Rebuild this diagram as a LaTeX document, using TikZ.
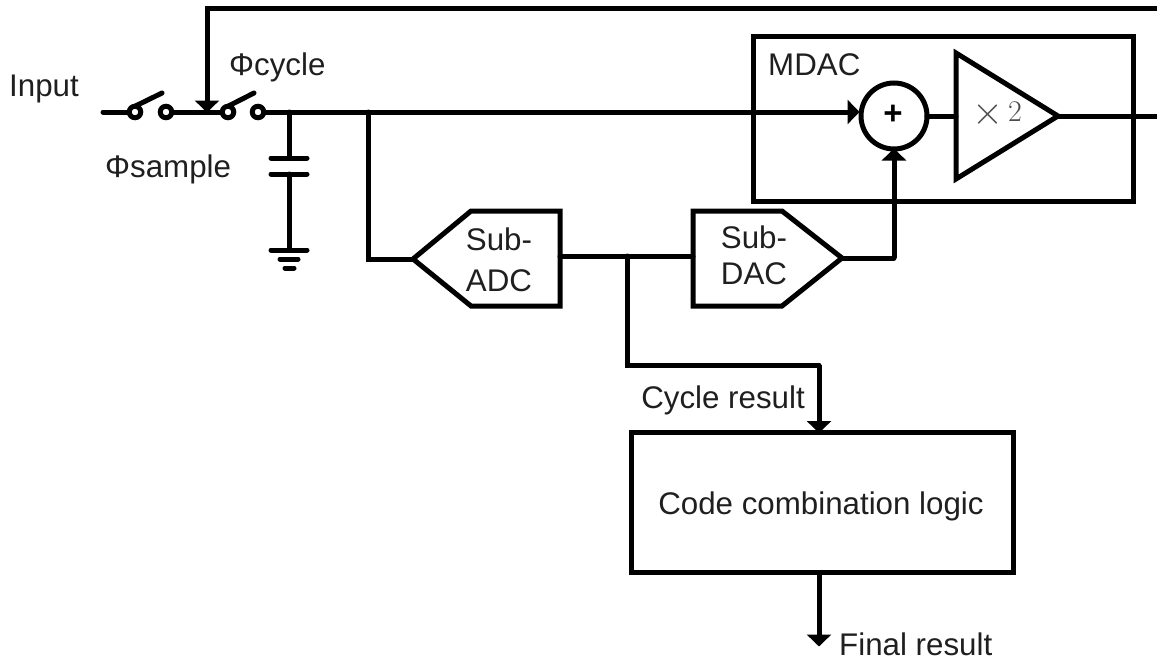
\documentclass[tikz,border=0pt]{standalone}
\usepackage{fontspec}
\setmainfont{Liberation Sans}
\usetikzlibrary{arrows.meta}
\tikzset{
  x=1pt,y=-1pt,
  wire/.style={line width=5pt,line cap=round,line join=miter},
  tip/.style={-{Triangle[width=24pt,length=12pt]},shorten >=-0.5pt},
  lbl/.style={font=\fontsize{31.3}{36}\selectfont,inner sep=0pt,text=black!88},
  terminal/.style={circle,draw,fill=white,line width=5pt,inner sep=0pt,outer sep=0pt,minimum size=11.5pt},
  adder/.style={circle,draw,fill=white,line width=5pt,inner sep=0pt,outer sep=0pt,minimum size=66pt},
  block/.style={rectangle,draw,line width=5pt,inner sep=0pt,outer sep=0pt},
  outline/.style={line width=5pt,line join=miter},
}
\begin{document}
\begin{tikzpicture}
\useasboundingbox (0,0) rectangle (1157,661);
% named points
\coordinate (inL) at (103,112);
\coordinate (fbR) at (1157,9);
\coordinate (fbC) at (207,9);
\coordinate (fbT) at (207,112);
\coordinate (capT) at (289,112);
\coordinate (capA) at (289,158);
\coordinate (capB) at (289,174);
\coordinate (gnd) at (289,250);
\coordinate (tap) at (368,112);
\coordinate (tapB) at (368,259);
\coordinate (outR) at (1157,116);
\coordinate (adcT) at (413,259);
\coordinate (dacT) at (842,258);
\coordinate (br) at (627,256);
\coordinate (brB) at (627,365);
\coordinate (brR) at (819,365);
\coordinate (finalEnd) at (819,646);
\coordinate (inW) at (859,112);
\coordinate (dacR) at (894,258);
\coordinate (ampL) at (956,116);
\coordinate (ampT) at (1058,116);
\coordinate (adcR) at (560,256);
\coordinate (dacL) at (693,256);
% boxes
\node[block,minimum width=380pt,minimum height=164pt] (mdac) at (943,119) {};
\node[block,minimum width=382pt,minimum height=140pt] (logic) at (822,502.5) {};
\node[lbl] (logictext) at (821,506) {Code combination logic};
% wires
\draw[wire] (inL) -- (135,112);
\draw[wire] (166,112) -- (228,112);
\draw[wire] (258,112) -- (capT);
\draw[wire] (capT) -- (tap);
\draw[wire,tip,line cap=butt] (tap) -- (inW);
\draw[wire,line cap=butt,tip] (fbR) -- (fbC) -- (fbT);
\draw[wire] (capT) -- (capA);
\draw[wire] (capB) -- (gnd);
\draw[wire] (tap) -- (tapB) -- (adcT);
\draw[wire] (adcR) -- (dacL);
\draw[wire] (br) -- (brB) -- (brR);
\draw[wire,tip,line cap=butt] (brR) -- (logic.north -| brR);
\draw[wire,tip,line cap=butt] (logic.south -| brR) -- (finalEnd);
\draw[wire] (dacT) -- (dacR);
\draw[wire] (ampT) -- (outR);
% capacitor and ground
\draw[wire] (271,158) -- (307,158);
\draw[wire] (271,174) -- (307,174);
\draw[wire] (271,250) -- (307,250);
\draw[wire] (280,259) -- (298,259);
\draw[wire] (285,268) -- (294,268);
% switches
\node[terminal] (s1a) at (135,112) {};
\node[terminal] (s1b) at (166,112) {};
\node[terminal] (s2a) at (228,112) {};
\node[terminal] (s2b) at (258,112) {};
\draw[wire] (s1a.north) -- (162,93);
\draw[wire] (s2a.north) -- (254,93);
% adder and amplifier
\node[adder] (sum) at (894,116) {};
\node[font=\fontsize{33}{33}\selectfont\bfseries,inner sep=0pt] (plus) at (893,115) {+};
\draw[wire,tip,line cap=butt] (dacR) -- (sum.south);
\draw[wire] (sum.east) -- (ampL);
\draw[outline] (956,53) -- (ampT) -- (956,179) -- cycle;
\node[inner sep=0pt,text=black!70,font=\fontsize{30}{30}\selectfont] (gain) at (997,115) {\raisebox{-0.1em}{\scalebox{1.6}{$\times$}}\,{\fontspec{Latin Modern Roman}2}};
% sub-ADC / sub-DAC
\draw[outline] (adcT) -- (471,211) -- (560,211) -- (560,306) -- (471,306) -- cycle;
\draw[outline] (dacT) -- (782,211) -- (693,211) -- (693,306) -- (782,306) -- cycle;
% labels
\node[lbl,anchor=base west] (input) at (9,96) {Input};
\node[lbl,anchor=base west] (pcycle) at (229,76) {Φcycle};
\node[lbl,anchor=base west] (psample) at (105,177) {Φsample};
\node[lbl,anchor=base west] (mdaclbl) at (768,75) {MDAC};
\node[lbl] (adc1) at (499,239) {Sub-};
\node[lbl] (adc2) at (499,281) {ADC};
\node[lbl] (dac1) at (754,237) {Sub-};
\node[lbl] (dac2) at (754,274) {DAC};
\node[lbl,anchor=base east] (cycres) at (805,408) {Cycle result};
\node[lbl,anchor=base west] (finres) at (839,655) {Final result};
\end{tikzpicture}
\end{document}
